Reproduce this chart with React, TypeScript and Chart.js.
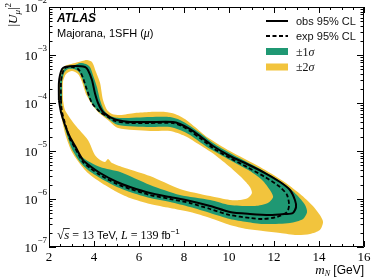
import React, { useEffect, useRef } from "react";
import { Chart, registerables } from "chart.js";

Chart.register(...registerables);

// ---- data (m_N in GeV, |U_mu|^2) ----
const obsMass = [2.44, 2.44, 2.49, 2.58, 2.71, 3.16, 3.6, 3.73, 3.91, 4.04, 4.18, 4.4, 4.71, 5.02, 5.6, 6.49, 7.51, 7.82, 8.27, 8.71, 9.29, 10.04, 10.8, 11.6, 12.27, 12.71, 12.93, 12.98, 12.84, 12.49, 11.82, 10.93, 10.04, 9.16, 8.27, 7.38, 6.49, 5.6, 5.02, 4.27, 3.82, 3.51, 3.16, 2.93, 2.71, 2.53];
const obsU2 = [1.15e-4, 2.61e-4, 3.83e-4, 5.11e-4, 5.62e-4, 5.9e-4, 5.62e-4, 4.87e-4, 3.01e-4, 1.62e-4, 1.0e-4, 6.49e-5, 5.11e-5, 4.43e-5, 4.02e-5, 4.02e-5, 4.02e-5, 3.65e-5, 2.87e-5, 2.05e-5, 1.27e-5, 7.87e-6, 5.36e-6, 3.48e-6, 2.26e-6, 1.54e-6, 9.53e-7, 6.81e-7, 5.11e-7, 4.87e-7, 4.64e-7, 4.87e-7, 5.36e-7, 7.15e-7, 9.09e-7, 1.1e-6, 1.33e-6, 1.78e-6, 2.26e-6, 3.48e-6, 4.87e-6, 6.49e-6, 1.27e-5, 1.96e-5, 3.48e-5, 6.49e-5];

const expMass = [2.53, 2.53, 2.58, 2.67, 2.8, 3.07, 3.29, 3.42, 3.51, 3.69, 3.91, 4.27, 4.62, 4.93, 5.6, 6.49, 7.51, 7.91, 8.27, 8.71, 9.29, 10.04, 10.8, 11.6, 12.27, 12.58, 12.67, 12.58, 12.13, 11.51, 10.93, 10.04, 9.16, 8.27, 7.38, 6.49, 5.6, 5.02, 4.27, 3.82, 3.51, 3.16, 2.93, 2.76, 2.58];
const expU2 = [1.15e-4, 2.61e-4, 3.83e-4, 5.11e-4, 5.62e-4, 5.62e-4, 5.11e-4, 4.22e-4, 3.32e-4, 1.87e-4, 1.0e-4, 6.49e-5, 5.11e-5, 4.22e-5, 3.83e-5, 3.83e-5, 3.83e-5, 3.32e-5, 2.61e-5, 1.87e-5, 1.15e-5, 7.15e-6, 4.64e-6, 2.87e-6, 1.78e-6, 1.21e-6, 7.5e-7, 5.36e-7, 4.22e-7, 3.83e-7, 4.02e-7, 4.64e-7, 6.19e-7, 8.25e-7, 1.0e-6, 1.21e-6, 1.62e-6, 2.05e-6, 3.16e-6, 4.43e-6, 5.9e-6, 1.15e-5, 1.78e-5, 3.16e-5, 6.49e-5];

const up1Mass = [2.49, 2.49, 2.58, 2.76, 3.16, 3.38, 3.64, 3.82, 4.0, 4.13, 4.27, 4.44, 4.71, 5.16, 6.49, 7.38, 7.82, 8.27, 8.71, 9.29, 10.04, 11.38, 12.4, 13.02, 13.38, 13.47, 13.29, 12.71, 11.51, 10.8, 10.04, 9.16, 8.27, 7.38, 6.49, 5.6, 4.93, 4.27, 3.73, 3.38, 3.02, 2.8, 2.62];
const up1U2 = [1.15e-4, 2.61e-4, 4.43e-4, 5.62e-4, 6.19e-4, 6.81e-4, 6.49e-4, 5.62e-4, 3.32e-4, 2.15e-4, 1.15e-4, 7.15e-5, 5.36e-5, 4.87e-5, 5.11e-5, 5.11e-5, 4.43e-5, 3.32e-5, 2.37e-5, 1.47e-5, 9.09e-6, 4.22e-6, 2.15e-6, 1.21e-6, 7.5e-7, 5.36e-7, 3.83e-7, 3.16e-7, 3.01e-7, 3.32e-7, 3.83e-7, 5.11e-7, 6.81e-7, 8.66e-7, 1.05e-6, 1.4e-6, 1.87e-6, 2.74e-6, 4.02e-6, 5.9e-6, 1.1e-5, 2.15e-5, 4.43e-5];

const up2Mass = [2.44, 2.44, 2.53, 2.71, 3.16, 3.47, 3.69, 3.91, 4.09, 4.27, 4.4, 4.58, 4.8, 5.16, 5.82, 6.49, 7.16, 7.6, 8.04, 8.49, 9.02, 10.04, 11.38, 12.4, 13.16, 13.73, 14.04, 14.18, 14.04, 13.6, 13.02, 12.27, 11.51, 10.8, 10.04, 9.16, 8.27, 7.38, 6.49, 5.6, 4.93, 4.27, 3.73, 3.38, 3.02, 2.76, 2.58];
const up2U2 = [1.15e-4, 2.61e-4, 4.43e-4, 5.9e-4, 6.81e-4, 7.5e-4, 7.87e-4, 7.15e-4, 4.43e-4, 2.61e-4, 1.15e-4, 7.15e-5, 5.9e-5, 5.62e-5, 6.19e-5, 6.49e-5, 6.49e-5, 5.9e-5, 4.64e-5, 3.16e-5, 1.96e-5, 1.0e-5, 4.64e-6, 2.37e-6, 1.27e-6, 7.15e-7, 4.64e-7, 3.32e-7, 2.26e-7, 1.87e-7, 1.78e-7, 1.96e-7, 2.15e-7, 2.37e-7, 2.87e-7, 4.02e-7, 5.36e-7, 6.49e-7, 7.87e-7, 1.05e-6, 1.47e-6, 2.26e-6, 3.48e-6, 5.36e-6, 9.53e-6, 1.96e-5, 4.43e-5];

const dn1Mass = [2.58, 2.58, 2.67, 2.84, 3.11, 3.33, 3.51, 3.64, 3.82, 4.13, 4.58, 5.07, 6.49, 7.38, 7.82, 8.27, 9.02, 10.04, 10.93, 11.47, 11.82, 11.96, 11.73, 11.16, 10.04, 9.16, 7.82, 6.49, 5.16, 4.27, 3.47, 3.02, 2.76, 2.58];
const dn1U2 = [1.15e-4, 2.74e-4, 4.22e-4, 5.11e-4, 5.11e-4, 4.43e-4, 3.01e-4, 1.87e-4, 1.15e-4, 7.15e-5, 4.87e-5, 3.48e-5, 3.16e-5, 3.16e-5, 2.74e-5, 2.15e-5, 1.21e-5, 6.49e-6, 3.83e-6, 2.49e-6, 1.54e-6, 1.1e-6, 8.25e-7, 7.15e-7, 7.5e-7, 9.53e-7, 1.21e-6, 1.96e-6, 3.65e-6, 4.64e-6, 7.5e-6, 1.62e-5, 3.16e-5, 6.49e-5];

const dn2Mass = [2.62, 2.62, 2.76, 3.02, 3.29, 3.47, 3.64, 3.87, 4.18, 4.62, 5.07, 6.49, 7.38, 8.04, 8.71, 9.38, 10.04, 10.58, 10.93, 11.02, 10.84, 10.49, 10.04, 9.16, 7.82, 6.49, 5.38, 4.8, 4.62, 4.49, 4.27, 4.04, 3.73, 3.16, 2.71];
const dn2U2 = [1.15e-4, 2.74e-4, 4.02e-4, 4.64e-4, 4.02e-4, 2.74e-4, 1.54e-4, 1.0e-4, 6.49e-5, 4.43e-5, 3.01e-5, 2.61e-5, 2.61e-5, 2.05e-5, 1.33e-5, 8.25e-6, 4.64e-6, 2.74e-6, 1.78e-6, 1.33e-6, 1.05e-6, 9.53e-7, 9.53e-7, 1.15e-6, 1.62e-6, 3.01e-6, 4.43e-6, 5.62e-6, 6.81e-6, 5.9e-6, 6.49e-6, 8.25e-6, 1.7e-5, 3.48e-5, 7.15e-5];

const xTickValues = [2, 4, 6, 8, 10, 12, 14, 16];
const yDecades = [-7, -6, -5, -4, -3, -2];
const legendLabels = ["obs 95% CL", "exp 95% CL", "±1", "±2"];

const GREEN = "#1f9873";
const YELLOW = "#f2c43d";
const SERIF = "'Liberation Serif', 'DejaVu Serif', serif";
const SANS = "'Liberation Sans', Arial, sans-serif";
const TENSION = 0.25;

function closed(xs: number[], ys: number[]) {
  const p = xs.map((x, i) => ({ x, y: ys[i] }));
  p.push({ ...p[0] });
  return p;
}

type Run = [string, string, number];
function runsWidth(ctx: CanvasRenderingContext2D, runs: Run[]) {
  let w = 0;
  for (const [t, f] of runs) {
    ctx.font = f;
    w += ctx.measureText(t).width;
  }
  return w;
}
function drawRuns(ctx: CanvasRenderingContext2D, x: number, y: number, runs: Run[]) {
  let cx = x;
  for (const [t, f, dy] of runs) {
    ctx.font = f;
    ctx.fillText(t, cx, y + dy);
    cx += ctx.measureText(t).width;
  }
  return cx;
}

const decor = {
  id: "decor",
  afterDraw(chart: any) {
    const { ctx, chartArea: a } = chart;
    const xs = chart.scales.x;
    const ys = chart.scales.y;
    ctx.save();
    ctx.strokeStyle = "#000";
    ctx.lineWidth = 1;
    ctx.setLineDash([]);
    ctx.beginPath();
    ctx.rect(a.left + 0.5, a.top + 0.5, a.right - a.left - 1, a.bottom - a.top - 1);
    ctx.stroke();

    // ticks (inward, all four sides)
    ctx.beginPath();
    const xMin = xTickValues[0];
    const xMax = xTickValues[xTickValues.length - 1];
    for (let v = xMin; v <= xMax + 1e-9; v += 0.5) {
      const px = Math.round(xs.getPixelForValue(v)) + 0.5;
      const major = xTickValues.some((t) => Math.abs(t - v) < 1e-6);
      const len = major ? 6 : 3;
      ctx.moveTo(px, a.bottom);
      ctx.lineTo(px, a.bottom - len);
      ctx.moveTo(px, a.top);
      ctx.lineTo(px, a.top + len);
    }
    for (const d of yDecades) {
      for (let k = 1; k <= 9; k++) {
        const v = k * Math.pow(10, d);
        if (v > Math.pow(10, yDecades[yDecades.length - 1]) * 1.0001) break;
        const py = Math.round(ys.getPixelForValue(v)) + 0.5;
        const len = k === 1 ? 7 : 3.5;
        ctx.moveTo(a.left, py);
        ctx.lineTo(a.left + len, py);
        ctx.moveTo(a.right, py);
        ctx.lineTo(a.right - len, py);
      }
    }
    ctx.stroke();

    ctx.fillStyle = "#000";
    ctx.textBaseline = "alphabetic";
    ctx.textAlign = "left";

    // y tick labels 10^d
    for (const d of yDecades) {
      const py = ys.getPixelForValue(Math.pow(10, d));
      const sup = "\u2212" + String(-d);
      const runs: Run[] = [["10", `13px ${SERIF}`, 0], [sup, `9px ${SERIF}`, -9]];
      const w = runsWidth(ctx, runs);
      drawRuns(ctx, a.left - 2 - w, py + 5, runs);
    }

    // y axis title |U_mu|^2 (rotated)
    {
      const runs: Run[] = [
        ["|", `13px ${SERIF}`, 0],
        ["U", `italic 13px ${SERIF}`, 0],
        ["\u03bc", `italic 9px ${SERIF}`, 3],
        ["|", `13px ${SERIF}`, 0],
        ["2", `9px ${SERIF}`, -6],
      ];
      const w = runsWidth(ctx, runs);
      ctx.save();
      ctx.translate(17, 3 + w);
      ctx.rotate(-Math.PI / 2);
      drawRuns(ctx, 0, 0, runs);
      ctx.restore();
    }

    // x axis title m_N [GeV]
    {
      const runs: Run[] = [
        ["m", `italic 13px ${SERIF}`, 0],
        ["N", `italic 8px ${SERIF}`, 2],
        [" [GeV]", `12px ${SANS}`, 0],
      ];
      const w = runsWidth(ctx, runs);
      drawRuns(ctx, a.right - w, 274, runs);
    }

    // ATLAS label
    ctx.font = `bold italic 12px ${SANS}`;
    ctx.fillText("ATLAS", a.left + 8, a.top + 15);
    drawRuns(ctx, a.left + 8, a.top + 30, [
      ["Majorana, 1SFH (", `11px ${SANS}`, 0],
      ["\u03bc", `italic 12px ${SERIF}`, 0],
      [")", `11px ${SANS}`, 0],
    ]);

    // sqrt(s) label
    {
      const x0 = a.left + 8;
      const yb = a.bottom - 8;
      let cx = drawRuns(ctx, x0, yb, [["\u221a", `13px ${SERIF}`, 0]]);
      const sx = cx;
      cx = drawRuns(ctx, cx, yb, [["s", `italic 13px ${SERIF}`, 0]]);
      ctx.beginPath();
      ctx.moveTo(sx - 1, yb - 10.5);
      ctx.lineTo(cx + 0.5, yb - 10.5);
      ctx.lineWidth = 0.8;
      ctx.stroke();
      drawRuns(ctx, cx, yb, [
        [" = 13 ", `12px ${SERIF}`, 0],
        ["TeV, ", `11px ${SANS}`, 0],
        ["L", `italic 12px ${SERIF}`, 0],
        [" = 139 ", `12px ${SERIF}`, 0],
        ["fb", `11px ${SANS}`, 0],
        ["\u22121", `8px ${SANS}`, -5],
      ]);
    }

    // legend
    {
      const lx0 = a.right - 98;
      const lx1 = lx0 + 22;
      const tx = lx1 + 8;
      const rows = [a.top + 14, a.top + 29, a.top + 44.5, a.top + 60];
      ctx.strokeStyle = "#000";
      ctx.lineWidth = 2;
      ctx.beginPath();
      ctx.moveTo(lx0, rows[0]);
      ctx.lineTo(lx1, rows[0]);
      ctx.stroke();
      ctx.setLineDash([4, 2.5]);
      ctx.beginPath();
      ctx.moveTo(lx0, rows[1]);
      ctx.lineTo(lx1, rows[1]);
      ctx.stroke();
      ctx.setLineDash([]);
      ctx.fillStyle = GREEN;
      ctx.fillRect(lx0, rows[2] - 3.5, lx1 - lx0, 7);
      ctx.fillStyle = YELLOW;
      ctx.fillRect(lx0, rows[3] - 3.5, lx1 - lx0, 7);
      ctx.fillStyle = "#111";
      ctx.font = `11px ${SANS}`;
      ctx.fillText(legendLabels[0], tx, rows[0] + 4);
      ctx.fillText(legendLabels[1], tx, rows[1] + 4);
      drawRuns(ctx, tx, rows[2] + 4, [[legendLabels[2], `12px ${SERIF}`, 0], ["\u03c3", `italic 12px ${SERIF}`, 0]]);
      drawRuns(ctx, tx, rows[3] + 4, [[legendLabels[3], `12px ${SERIF}`, 0], ["\u03c3", `italic 12px ${SERIF}`, 0]]);
    }
    ctx.restore();
  },
};

export default function App() {
  const ref = useRef<HTMLCanvasElement>(null);
  useEffect(() => {
    const canvas = ref.current;
    if (!canvas) return;
    const common = { pointRadius: 0, pointHoverRadius: 0, tension: TENSION };
    const chart = new Chart(canvas, {
      type: "line",
      data: {
        datasets: [
          { label: "obs 95% CL", data: closed(obsMass, obsU2), borderColor: "#000", borderWidth: 2, fill: false, ...common },
          { label: "exp 95% CL", data: closed(expMass, expU2), borderColor: "#000", borderWidth: 1.8, borderDash: [4, 2.5], fill: false, ...common },
          { label: "-2sigma", data: closed(dn2Mass, dn2U2), borderColor: "rgba(0,0,0,0)", borderWidth: 0, backgroundColor: "#ffffff", fill: "shape", ...common },
          { label: "-1sigma", data: closed(dn1Mass, dn1U2), borderColor: "rgba(0,0,0,0)", borderWidth: 0, backgroundColor: YELLOW, fill: "shape", ...common },
          { label: "+1sigma", data: closed(up1Mass, up1U2), borderColor: "rgba(0,0,0,0)", borderWidth: 0, backgroundColor: GREEN, fill: "shape", ...common },
          { label: "+2sigma", data: closed(up2Mass, up2U2), borderColor: "rgba(0,0,0,0)", borderWidth: 0, backgroundColor: YELLOW, fill: "shape", ...common },
        ],
      } as any,
      options: {
        responsive: false,
        animation: false,
        events: [],
        layout: { padding: { top: 7, right: 10, left: 0, bottom: 0 } },
        plugins: { legend: { display: false }, tooltip: { enabled: false } },
        scales: {
          x: {
            type: "linear",
            min: xTickValues[0],
            max: xTickValues[xTickValues.length - 1],
            afterFit: (s: any) => { s.height = 33; },
            grid: { display: false, drawTicks: false },
            border: { display: false },
            ticks: {
              stepSize: 2,
              autoSkip: false,
              maxRotation: 0,
              padding: 3,
              color: "#000",
              font: { family: SERIF, size: 13 },
            },
          },
          y: {
            type: "logarithmic",
            min: Math.pow(10, yDecades[0]),
            max: Math.pow(10, yDecades[yDecades.length - 1]),
            afterFit: (s: any) => { s.width = 49; },
            grid: { display: false, drawTicks: false },
            border: { display: false },
            ticks: { display: false },
          },
        },
      } as any,
      plugins: [decor],
    });
    return () => chart.destroy();
  }, []);
  return (
    <div style={{ position: "fixed", left: 0, top: 0, width: 374, height: 280, background: "#fff" }}>
      <canvas ref={ref} width={374} height={280} style={{ display: "block" }} />
    </div>
  );
}
